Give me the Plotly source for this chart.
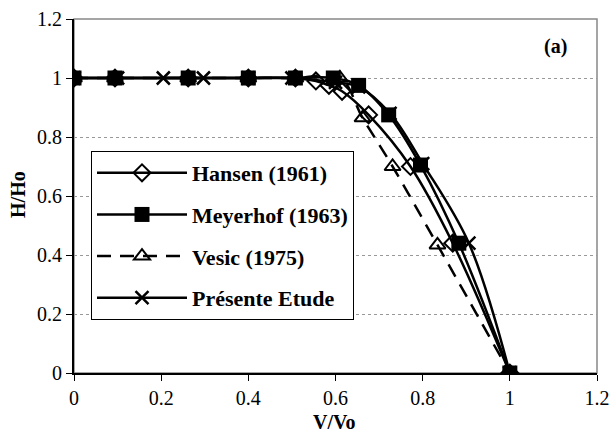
import plotly.graph_objects as go

# ---- data ----
hansen_x = [0, 0.094, 0.262, 0.4, 0.508, 0.555, 0.585, 0.615, 0.676, 0.772, 0.869, 1.0]
hansen_y = [1, 1, 1, 1, 1, 0.99, 0.975, 0.955, 0.875, 0.70, 0.44, 0]

meyerhof_x = [0, 0.094, 0.262, 0.4, 0.508, 0.595, 0.653, 0.722, 0.795, 0.883, 1.0]
meyerhof_y = [1, 1, 1, 1, 1, 1.0, 0.975, 0.875, 0.705, 0.44, 0]

vesic_x = [0, 0.094, 0.262, 0.4, 0.508, 0.61, 0.662, 0.731, 0.834, 1.0]
vesic_y = [1, 1, 1, 1, 1, 1.0, 0.865, 0.70, 0.434, 0]

presente_x = [0, 0.1, 0.205, 0.297, 0.4, 0.5, 0.6, 0.653, 0.725, 0.8, 0.906, 1.0]
presente_y = [1, 1, 1, 1, 1, 1, 0.985, 0.97, 0.88, 0.71, 0.44, 0]

names = ["Hansen (1961)", "Meyerhof (1963)", "Vesic (1975)", "Présente Etude"]
x_ticks = [0, 0.2, 0.4, 0.6, 0.8, 1, 1.2]
y_ticks = [0, 0.2, 0.4, 0.6, 0.8, 1, 1.2]

FONT = "Liberation Serif, Times New Roman, serif"

fig = go.Figure()
fig.add_trace(go.Scatter(x=hansen_x, y=hansen_y, name=names[0], mode="lines+markers",
                         line=dict(color="black", width=2.5, shape="spline", smoothing=1),
                         marker=dict(symbol="diamond-open", size=13, color="black", line=dict(width=2)),
                         legendgroup="a"))
fig.add_trace(go.Scatter(x=meyerhof_x, y=meyerhof_y, name=names[1], mode="lines+markers",
                         line=dict(color="black", width=2.5, shape="spline", smoothing=1),
                         marker=dict(symbol="square", size=15, color="black"),
                         legendgroup="b"))
fig.add_trace(go.Scatter(x=vesic_x, y=vesic_y, name=names[2], mode="lines+markers",
                         line=dict(color="black", width=2.5, dash="14px,9px", shape="spline", smoothing=1),
                         marker=dict(symbol="triangle-up-open", size=14, color="black", line=dict(width=2)),
                         legendgroup="c"))
fig.add_trace(go.Scatter(x=presente_x, y=presente_y, name=names[3], mode="lines+markers",
                         line=dict(color="black", width=2.5, shape="spline", smoothing=1),
                         marker=dict(symbol="x-thin-open", size=13, color="black", line=dict(width=2.5)),
                         legendgroup="d"))

fig.update_layout(
    template="none",
    width=610, height=439,
    margin=dict(l=74, r=13, t=19, b=66),
    paper_bgcolor="white", plot_bgcolor="white",
    font=dict(family=FONT, size=20, color="black"),
    showlegend=True,
    legend=dict(x=0.0325, y=0.627, xanchor="left", yanchor="top",
                bgcolor="white", bordercolor="black", borderwidth=1,
                font=dict(family=FONT, size=22, color="black", weight="bold"),
                tracegroupgap=10, itemwidth=90),
    shapes=[dict(type="rect", xref="paper", yref="paper", x0=0, y0=0, x1=1, y1=1,
                 line=dict(color="#888888", width=1.5), layer="below")],
    annotations=[
        dict(text="<b>(a)</b>", xref="paper", yref="paper", x=0.92, y=0.921,
             xanchor="center", yanchor="middle",
             showarrow=False, font=dict(family=FONT, size=20, color="black")),
        dict(text="<b>V/Vo</b>", xref="paper", yref="paper", x=0.499, y=-0.138,
             xanchor="center", yanchor="middle",
             showarrow=False, font=dict(family=FONT, size=20, color="black")),
        dict(text="<b>H/Ho</b>", xref="paper", yref="paper", x=-0.107, y=0.503,
             xanchor="center", yanchor="middle", textangle=-90,
             showarrow=False, font=dict(family=FONT, size=20, color="black")),
    ],
)
fig.update_xaxes(range=[0, 1.2], tickvals=x_ticks, ticktext=[str(v) for v in x_ticks],
                 automargin=False,
                 ticks="outside", ticklen=6, tickcolor="black", tickwidth=1,
                 showline=True, linecolor="black", linewidth=2, showgrid=False, zeroline=False)
fig.update_yaxes(range=[0, 1.2], tickvals=y_ticks, ticktext=[str(v) for v in y_ticks],
                 automargin=False,
                 ticks="outside", ticklen=6, tickcolor="black", tickwidth=1,
                 showline=True, linecolor="black", linewidth=2,
                 showgrid=True, gridcolor="#999999", griddash="dot", gridwidth=1, zeroline=False)

fig.write_html("out.html", config={"displayModeBar": False},
               post_script="document.body.style.margin='0';document.body.style.padding='0';")
